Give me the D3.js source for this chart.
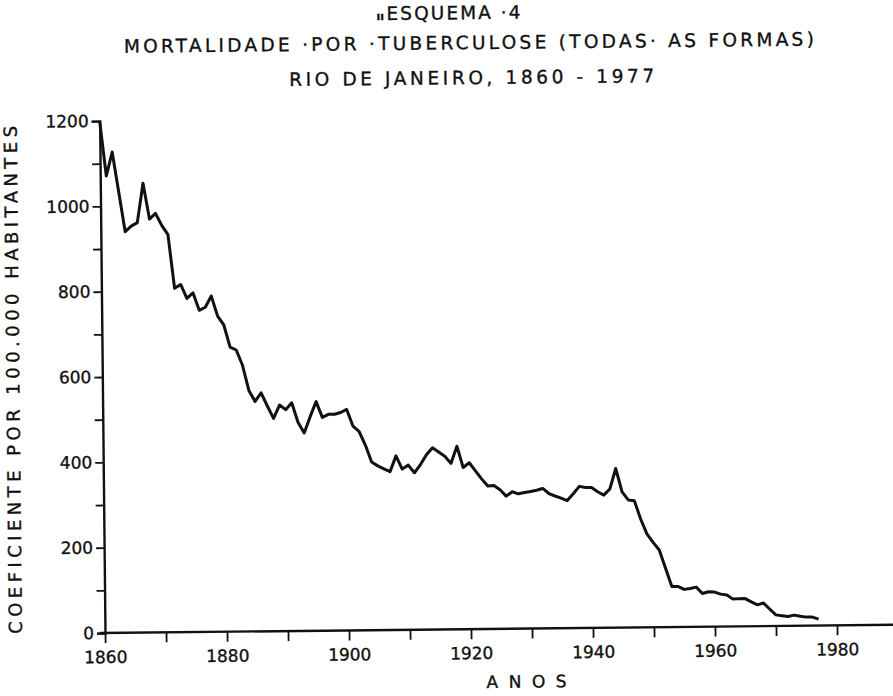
<!DOCTYPE html>
<html>
<head>
<meta charset="utf-8">
<script src="https://cdn.jsdelivr.net/npm/d3@7"></script>
<style>
body { margin: 0; background: #fff; }
text { font-family: "DejaVu Sans", sans-serif; fill: #111; stroke: #111; stroke-width: 0.35px; }
</style>
</head>
<body>
<svg id="chart" width="893" height="696"></svg>
<script>
// values, one per year
var years = d3.range(1860, 1978);
var rates = [
    1200, 1071, 1127, 1034, 940, 953, 961, 1053, 969, 982,
    954, 932, 806, 815, 782, 795, 754, 761, 787, 740,
    719, 667, 660, 624, 565, 539, 559, 528, 499, 530,
    519, 535, 489, 464, 502, 537, 500, 507, 507, 511,
    518, 479, 466, 434, 394, 385, 378, 371, 408, 377,
    386, 368, 387, 410, 426, 416, 406, 389, 429, 379,
    390, 371, 352, 335, 336, 326, 311, 321, 316, 319,
    321, 324, 328, 316, 310, 305, 299, 315, 332, 329,
    329, 319, 311, 325, 373, 318, 299, 297, 254, 219,
    199, 181, 138, 95, 95, 88, 90, 93, 78, 82,
    81, 76, 74, 64, 65, 65, 57, 50, 54, 40,
    26, 24, 22, 25, 22, 20, 20, 15
];
var xTicks = d3.range(1860, 1981, 10);
var xLabels = [1860, 1880, 1900, 1920, 1940, 1960, 1980];
var yTicks = d3.range(0, 1201, 100);
var yLabels = [0, 200, 400, 600, 800, 1000, 1200];

var titles = [
    { text: "ESQUEMA ·4", x: 393, y: 23, len: 134 },
    { text: "MORTALIDADE ·POR ·TUBERCULOSE (TODAS· AS FORMAS)", x: 130, y: 53, len: 690 },
    { text: "RIO DE JANEIRO, 1860 - 1977", x: 295, y: 88, len: 365 }
];
var xTitle = "ANOS";
var yTitle = "COEFICIENTE  POR  100.000  HABITANTES";

var svg = d3.select("#chart");
// the scan is slightly turned, keep that
var g = svg.append("g").attr("transform", "rotate(-0.6,105,633)");

var x = d3.scaleLinear().domain([1860, 1980]).range([105, 837]);
var y = d3.scaleLinear().domain([0, 1200]).range([633, 121]);

titles.forEach(function (t) {
    g.append("text")
        .attr("x", t.x)
        .attr("y", t.y)
        .attr("textLength", t.len)
        .attr("lengthAdjust", "spacing")
        .style("font-size", "18.5px")
        .text(t.text);
});
g.append("text")
    .attr("x", 383).attr("y", 23)
    .style("font-size", "11px").style("font-weight", "bold")
    .text("ıı");

// x axis
var xAxis = d3.axisBottom(x)
    .tickValues(xTicks)
    .tickSize(10)
    .tickPadding(8)
    .tickFormat(function (d) { return xLabels.indexOf(d) > -1 ? d : ""; });
var gx = g.append("g").attr("transform", "translate(0," + y(0) + ")").call(xAxis);
gx.select(".domain").remove();
gx.append("line")
    .attr("x1", x(1860) - 5).attr("x2", 900)
    .attr("stroke", "#111").attr("stroke-width", 2.4);

// y axis
var yAxis = d3.axisLeft(y)
    .tickValues(yTicks)
    .tickSize(8)
    .tickPadding(3)
    .tickFormat(function (d) { return yLabels.indexOf(d) > -1 ? d : ""; });
var gy = g.append("g").attr("transform", "translate(" + x(1860) + ",0)").call(yAxis);
gy.select(".domain").attr("stroke-width", 2.4).attr("stroke", "#111");

g.selectAll(".tick line").attr("stroke", "#111").attr("stroke-width", 1.8);
g.selectAll(".tick text")
    .style("font-family", "DejaVu Sans, sans-serif")
    .style("font-size", "17px")
    .attr("fill", "#111");

g.append("text")
    .attr("x", 486).attr("y", 692)
    .attr("textLength", 80)
    .attr("lengthAdjust", "spacing")
    .style("font-size", "17px")
    .text(xTitle);

g.append("text")
    .attr("transform", "translate(22,633) rotate(-90)")
    .attr("x", 0).attr("y", 0)
    .attr("textLength", 508)
    .attr("lengthAdjust", "spacing")
    .style("font-size", "18px")
    .text(yTitle);

var line = d3.line()
    .x(function (d, i) { return x(years[i]); })
    .y(function (d) { return y(d); });

g.append("path")
    .datum(rates)
    .attr("d", line)
    .attr("fill", "none")
    .attr("stroke", "#111")
    .attr("stroke-width", 3)
    .attr("stroke-linejoin", "round");
</script>
</body>
</html>
